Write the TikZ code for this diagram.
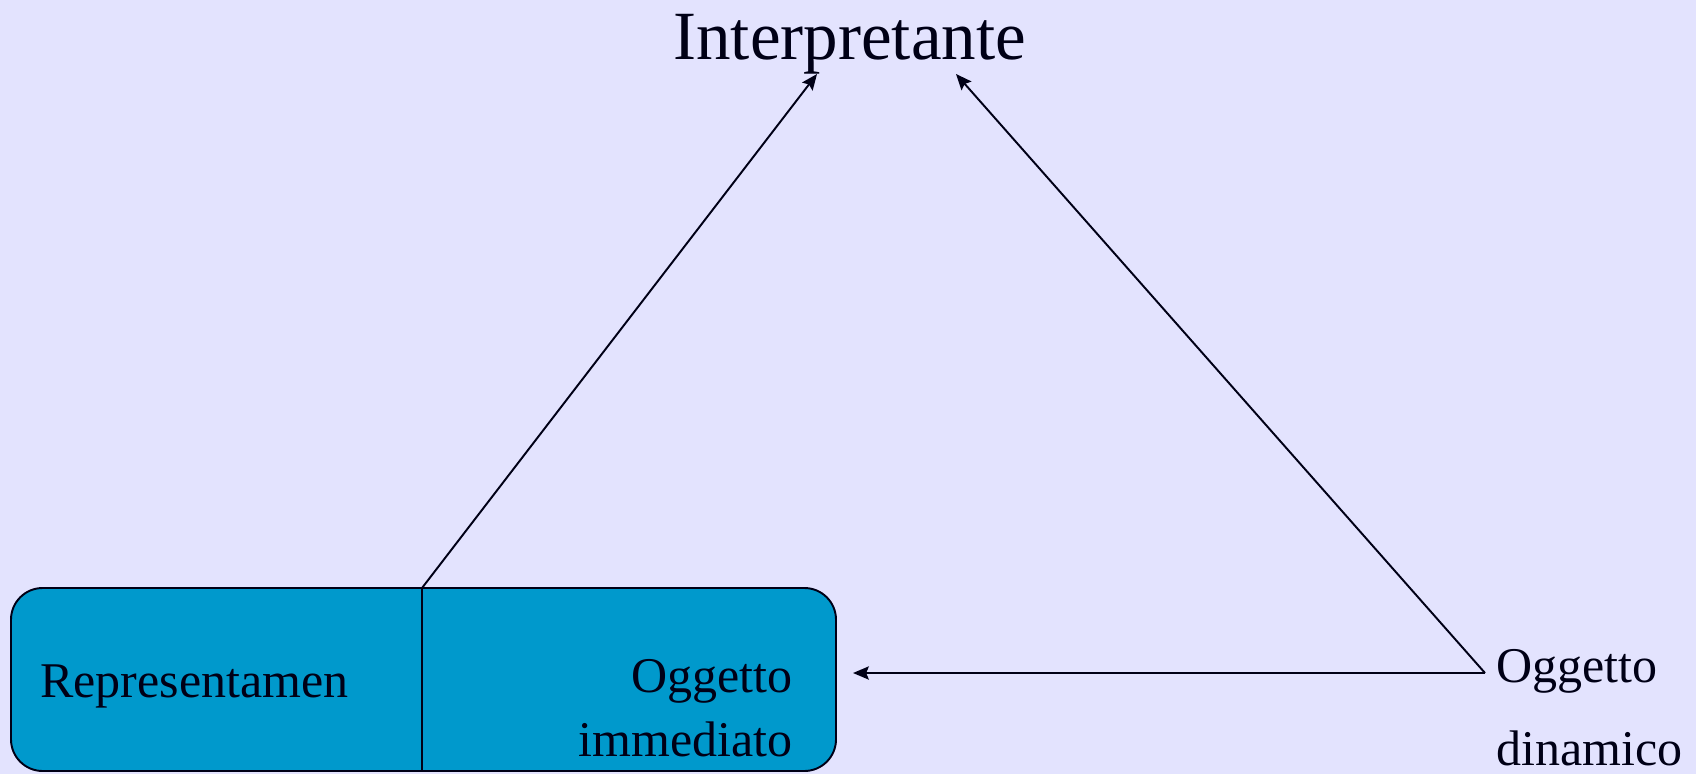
\documentclass[tikz,border=0pt]{standalone}
\usepackage{fontspec}
\setmainfont{Liberation Serif}
\usetikzlibrary{arrows.meta, positioning}

\definecolor{bgLav}{RGB}{227,227,254}
\definecolor{signBlue}{RGB}{0,153,204}
\definecolor{inkNavy}{RGB}{0,0,22}

\begin{document}
\begin{tikzpicture}[x=0.02cm, y=-0.02cm,
    line/.style={draw=inkNavy, line width=1.1pt},
    arr/.style={line, -{Stealth[length=9pt, width=7.5pt, inset=1.5pt]}},
    lbl/.style={text=inkNavy, inner sep=0pt, font=\fontsize{28.45}{36.5}\selectfont}]
\fill[bgLav] (0,0) rectangle (1696,774);
\useasboundingbox (0,0) rectangle (1696,774);

\draw[line, fill=signBlue, rounded corners=18pt] (11,588) rectangle (836,771);
\draw[line] (422,588) coordinate (divtop) -- (422,771);

\node[lbl, anchor=base west, font=\fontsize{39.3}{47}\selectfont] (interp) at (673,59.5) {Interpretante};
\node[lbl, anchor=base west] (repr) at (40,697) {Representamen};
\node[lbl, anchor=north east, align=right] (immed) at (793,659) {Oggetto\\immediato};
\node[lbl, anchor=north west, align=left, font=\fontsize{28.45}{47.2}\selectfont] (dyn) at (1496,649) {Oggetto\\dinamico};

\coordinate (dynpt) at (1485,673);
\coordinate (tipL) at (817,74);
\coordinate (tipR) at (956,74);
\coordinate (tipImm) at (853,673);

\draw[arr] (divtop) -- (tipL);
\draw[arr] (dynpt) -- (tipR);
\draw[arr] (dynpt) -- (tipImm);

\end{tikzpicture}
\end{document}
